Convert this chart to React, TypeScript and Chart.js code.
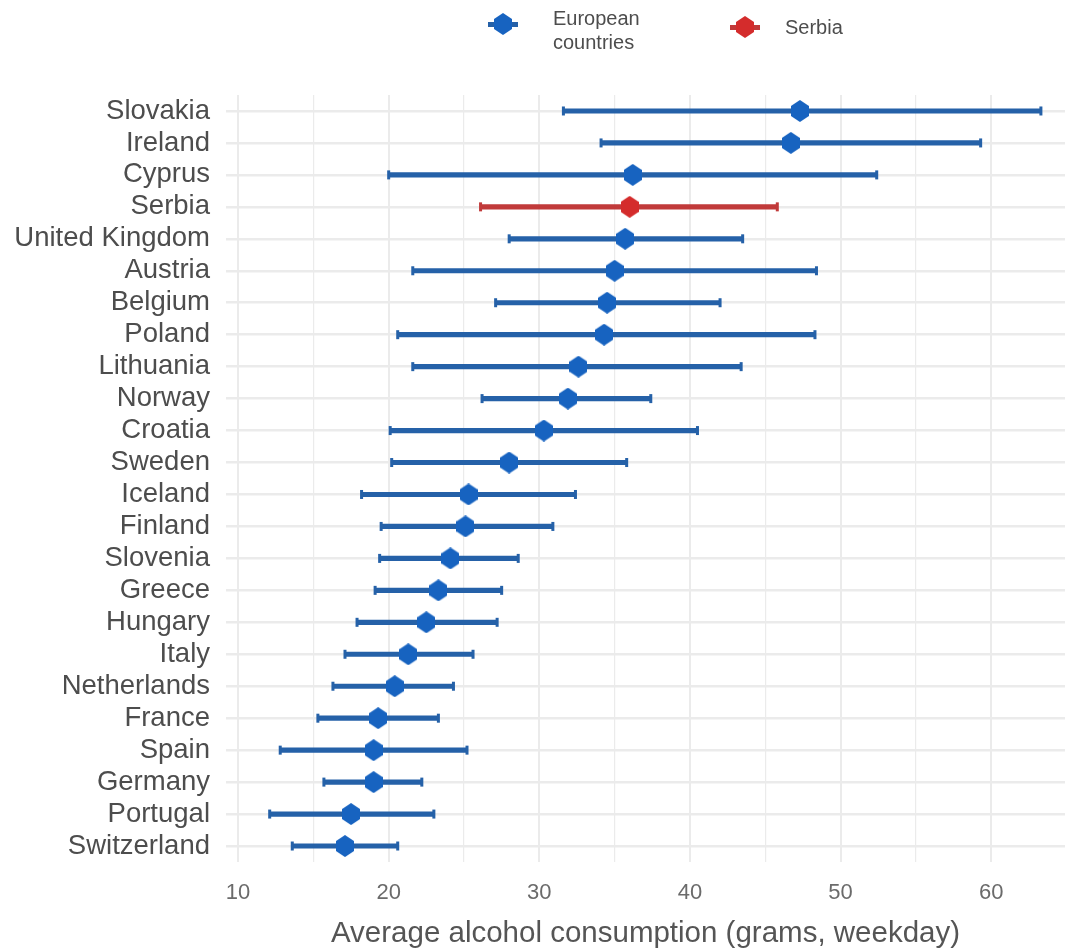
import React, { useEffect, useRef } from "react";
import { Chart, registerables } from "chart.js";

Chart.register(...registerables);

// Countries, top to bottom
const countries = [
  "Slovakia", "Ireland", "Cyprus", "Serbia", "United Kingdom", "Austria",
  "Belgium", "Poland", "Lithuania", "Norway", "Croatia", "Sweden",
  "Iceland", "Finland", "Slovenia", "Greece", "Hungary", "Italy",
  "Netherlands", "France", "Spain", "Germany", "Portugal", "Switzerland",
];

// Mean weekday consumption (grams)
const means = [
  47.3, 46.7, 36.2, 36.0, 35.7, 35.0,
  34.5, 34.3, 32.6, 31.9, 30.3, 28.0,
  25.3, 25.1, 24.1, 23.3, 22.5, 21.3,
  20.4, 19.3, 19.0, 19.0, 17.5, 17.1,
];

// Lower interval bounds
const lows = [
  31.6, 34.1, 20.0, 26.1, 28.0, 21.6,
  27.1, 20.6, 21.6, 26.2, 20.1, 20.2,
  18.2, 19.5, 19.4, 19.1, 17.9, 17.1,
  16.3, 15.3, 12.8, 15.7, 12.1, 13.6,
];

// Upper interval bounds
const highs = [
  63.3, 59.3, 52.4, 45.8, 43.5, 48.4,
  42.0, 48.3, 43.4, 37.4, 40.5, 35.8,
  32.4, 30.9, 28.6, 27.5, 27.2, 25.6,
  24.3, 23.3, 25.2, 22.2, 23.0, 20.6,
];

const xTickLabels = [10, 20, 30, 40, 50, 60];
const highlightCountry = "Serbia";

const BLUE_LINE = "#2561a8";
const BLUE_POINT = "#1763c0";
const RED_LINE = "#c13a3a";
const RED_POINT = "#d42c2c";
const FONT = "'Liberation Sans', Arial, sans-serif";

function hexMarker(color: string, w: number, h: number): HTMLCanvasElement {
  const c = document.createElement("canvas");
  c.width = w;
  c.height = h;
  const ctx = c.getContext("2d")!;
  ctx.fillStyle = color;
  ctx.beginPath();
  ctx.moveTo(w / 2, 0);
  ctx.lineTo(w, h * 0.27);
  ctx.lineTo(w, h * 0.73);
  ctx.lineTo(w / 2, h);
  ctx.lineTo(0, h * 0.73);
  ctx.lineTo(0, h * 0.27);
  ctx.closePath();
  ctx.fill();
  return c;
}

// Draws the short end caps of each interval bar
const whiskerCaps = {
  id: "whiskerCaps",
  afterDatasetDraw(chart: any, args: any) {
    if (args.index !== 1) return;
    const ctx = chart.ctx;
    const xs = chart.scales.x;
    const ys = chart.scales.y;
    ctx.save();
    countries.forEach((c, i) => {
      const y = ys.getPixelForValue(i);
      ctx.fillStyle = c === highlightCountry ? RED_LINE : BLUE_LINE;
      [lows[i], highs[i]].forEach((v) => {
        const x = xs.getPixelForValue(v);
        ctx.fillRect(x - 1.5, y - 4.5, 3, 9);
      });
    });
    ctx.restore();
  },
};

export default function App() {
  const ref = useRef<HTMLCanvasElement | null>(null);

  useEffect(() => {
    if (!ref.current) return;
    const blueHex = hexMarker(BLUE_POINT, 18, 22);
    const redHex = hexMarker(RED_POINT, 18, 22);
    const isHi = countries.map((c) => c === highlightCountry);

    const chart = new Chart(ref.current, {
      type: "bar",
      data: {
        labels: countries,
        datasets: [
          {
            type: "line",
            label: "mean",
            data: means,
            indexAxis: "y",
            showLine: false,
            pointStyle: isHi.map((h) => (h ? redHex : blueHex)),
            pointRadius: 10,
            order: 0,
          } as any,
          {
            type: "bar",
            label: "interval",
            data: lows.map((l, i) => [l, highs[i]]),
            backgroundColor: isHi.map((h) => (h ? RED_LINE : BLUE_LINE)),
            barThickness: 4.5,
            borderSkipped: false,
            order: 1,
          } as any,
        ],
      },
      options: {
        indexAxis: "y",
        responsive: false,
        animation: false,
        layout: { autoPadding: false, padding: { top: 95, right: 0, bottom: 0, left: 0 } },
        plugins: {
          legend: { display: false },
          tooltip: { enabled: false },
        },
        scales: {
          x: {
            type: "linear",
            min: 9.2,
            max: 64.9,
            border: { display: false },
            grid: {
              drawTicks: false,
              color: "#ebebeb",
              lineWidth: (ctx: any) => (ctx.tick && ctx.tick.value % 10 === 0 ? 2 : 1.2),
            },
            ticks: {
              stepSize: 5,
              includeBounds: false,
              autoSkip: false,
              maxRotation: 0,
              padding: 18,
              color: "#6b6b6b",
              font: { family: FONT, size: 22 },
              callback: (v: any) => (xTickLabels.includes(Number(v)) ? String(v) : ""),
            },
            title: {
              display: true,
              text: "Average alcohol consumption (grams, weekday)",
              color: "#555555",
              font: { family: FONT, size: 29.5 },
              padding: { top: 8, bottom: -3 },
            },
            afterFit: (scale: any) => {
              scale.height = 87;
            },
          },
          y: {
            type: "category",
            offset: true,
            border: { display: false },
            grid: {
              offset: false,
              drawTicks: false,
              color: "#ebebeb",
              lineWidth: 2.5,
            },
            ticks: {
              autoSkip: false,
              padding: 16,
              color: "#4d4d4d",
              font: { family: FONT, size: 27.5 },
            },
            afterFit: (scale: any) => {
              scale.width = 226;
            },
          },
        },
      },
      plugins: [whiskerCaps],
    } as any);

    return () => chart.destroy();
  }, []);

  const legendText: React.CSSProperties = {
    position: "absolute",
    fontFamily: FONT,
    fontSize: 20,
    lineHeight: "24px",
    color: "#4d4d4d",
  };

  const legendKey = (left: number, top: number, line: string, point: string) => (
    <div style={{ position: "absolute", left, top, width: 30, height: 20 }}>
      <div style={{ position: "absolute", left: 0, top: 8, width: 30, height: 4.5, background: line }} />
      <div
        style={{
          position: "absolute",
          left: 6,
          top: -1,
          width: 18,
          height: 22,
          background: point,
          clipPath: "polygon(50% 0, 100% 27%, 100% 73%, 50% 100%, 0 73%, 0 27%)",
        }}
      />
    </div>
  );

  return (
    <div style={{ position: "absolute", left: 0, top: 0, width: 1065, height: 949, background: "#ffffff" }}>
      <canvas ref={ref} width={1065} height={949} style={{ display: "block", width: 1065, height: 949 }} />
      {legendKey(488, 14, BLUE_LINE, BLUE_POINT)}
      <div style={{ ...legendText, left: 553, top: 6 }}>
        European
        <br />
        countries
      </div>
      {legendKey(730, 17, RED_LINE, RED_POINT)}
      <div style={{ ...legendText, left: 785, top: 15 }}>Serbia</div>
    </div>
  );
}
